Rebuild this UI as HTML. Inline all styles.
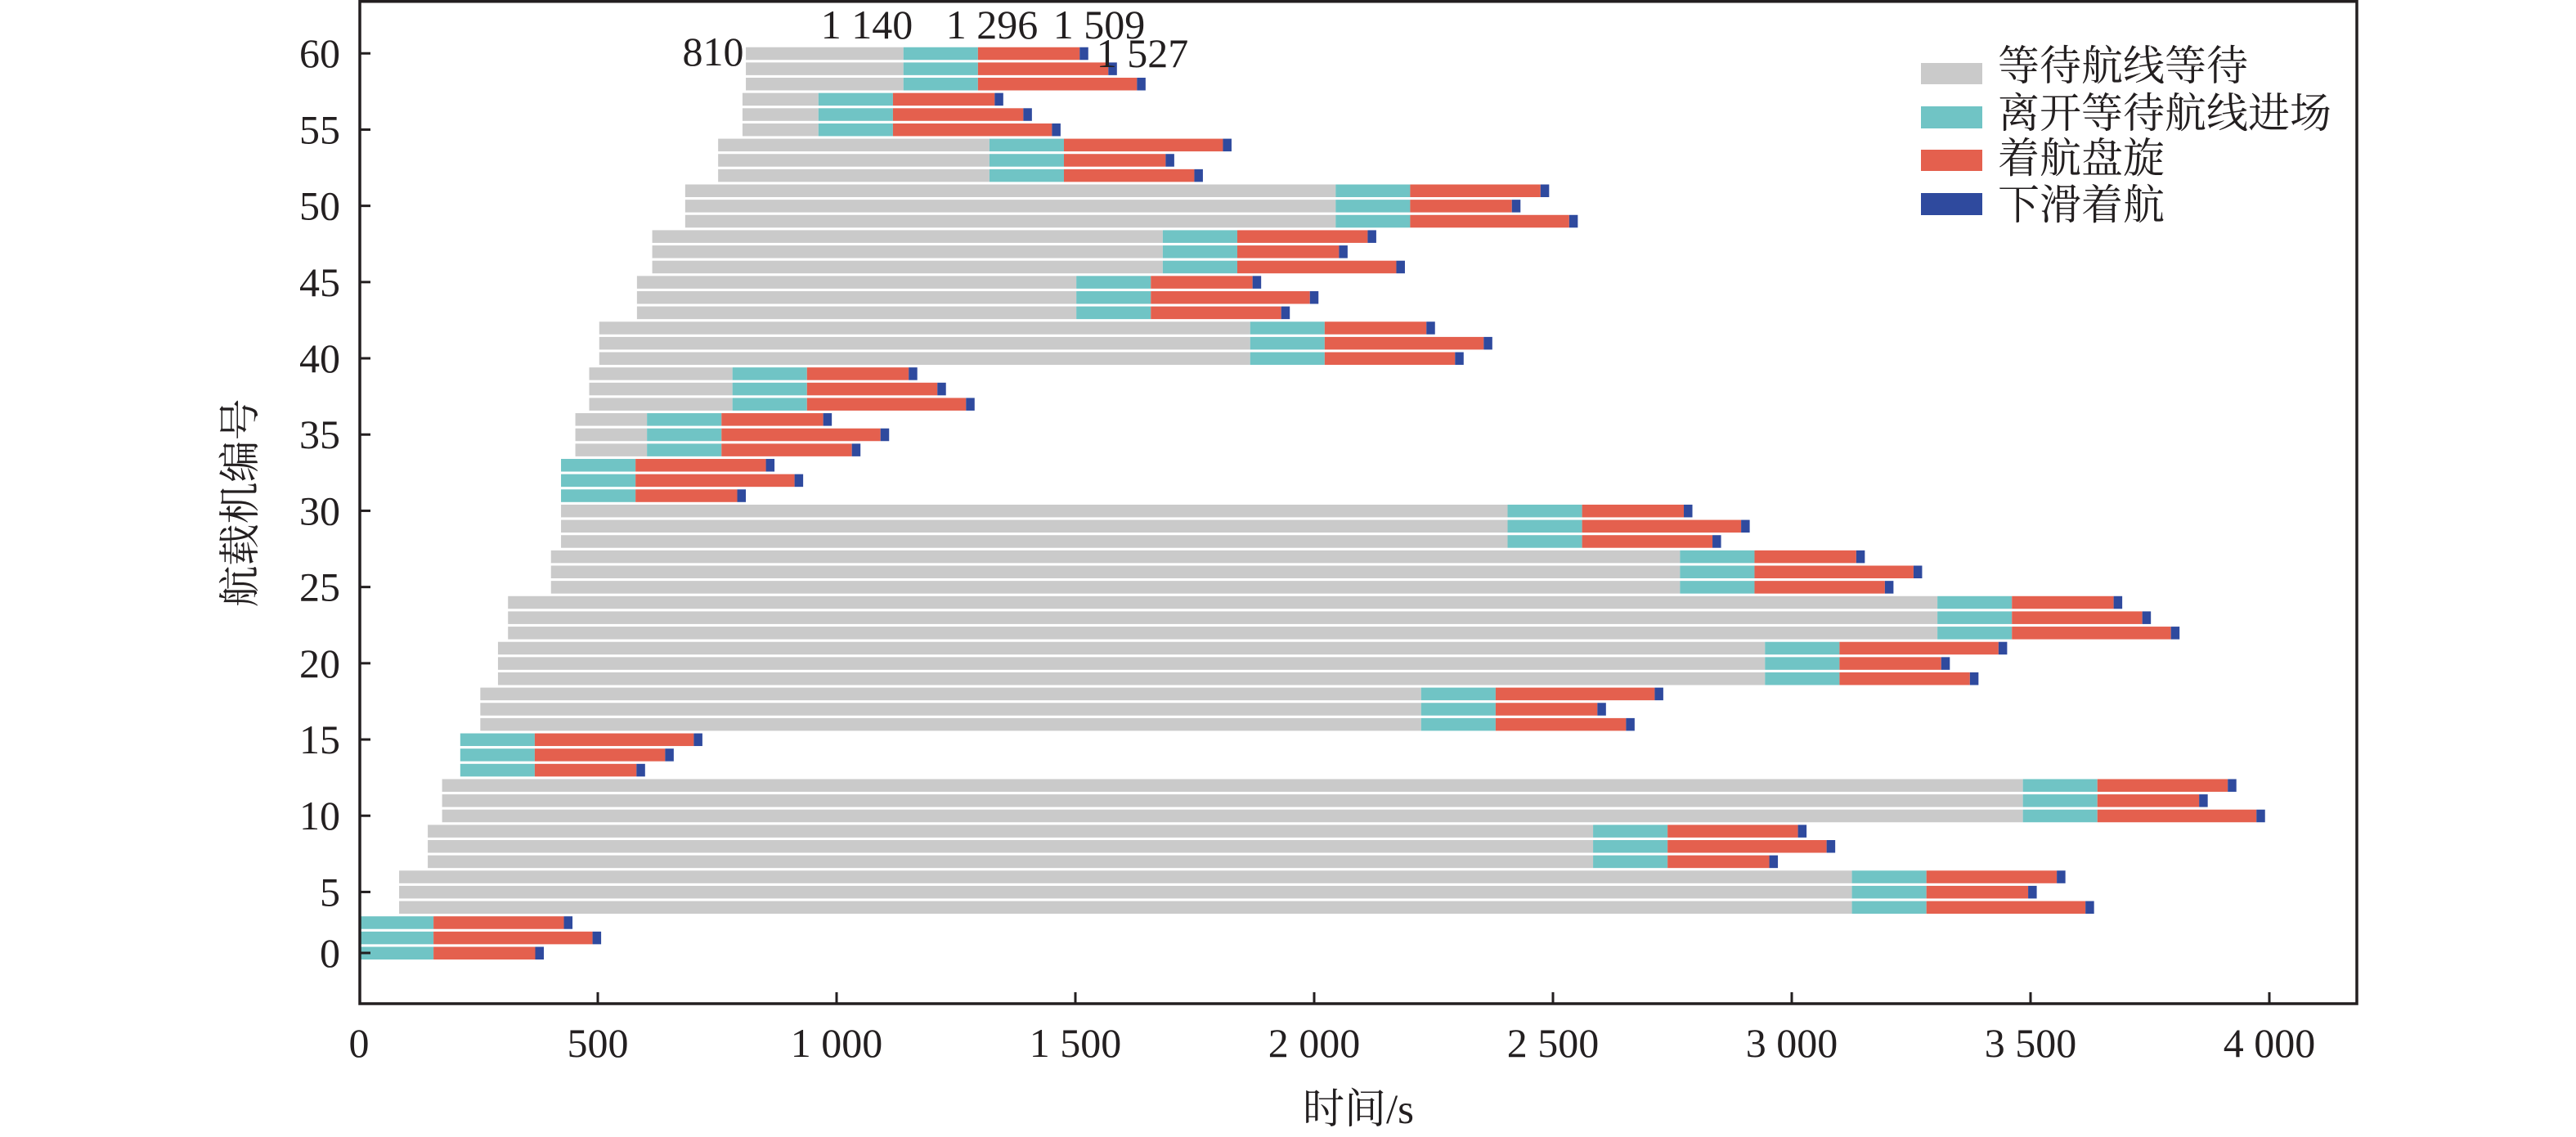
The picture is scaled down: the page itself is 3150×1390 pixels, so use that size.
<!DOCTYPE html>
<html>
<head>
<meta charset="utf-8">
<style>
  html, body { margin: 0; padding: 0; background: #ffffff; }
  svg { display: block; }
  .g { fill: #cacaca; }
  .t { fill: #70c4c5; }
  .r { fill: #e4604e; }
  .b { fill: #2f4a9e; }
  .num { font-family: "Liberation Serif", "Noto Serif CJK SC", serif; font-size: 50px; fill: #231f20; }
  .cjk { font-family: "Liberation Serif", "Noto Serif CJK SC", serif; font-size: 51px; fill: #231f20; }
</style>
</head>
<body>
<svg width="3150" height="1390" viewBox="0 0 3150 1390" xmlns="http://www.w3.org/2000/svg">
  <rect x="0" y="0" width="3150" height="1390" fill="#ffffff"/>

  <!-- bars: x in seconds, scaled -->
  <g transform="translate(439 0) scale(0.584 1)">
    <!-- i0-2 -->
    <rect class="t" x="0" y="1157.5" width="156" height="15.5"/><rect class="r" x="156" y="1157.5" width="213" height="15.5"/><rect class="b" x="369" y="1157.5" width="18" height="15.5"/>
    <rect class="t" x="0" y="1138.86" width="156" height="15.5"/><rect class="r" x="156" y="1138.86" width="333" height="15.5"/><rect class="b" x="489" y="1138.86" width="18" height="15.5"/>
    <rect class="t" x="0" y="1120.22" width="156" height="15.5"/><rect class="r" x="156" y="1120.22" width="273" height="15.5"/><rect class="b" x="429" y="1120.22" width="18" height="15.5"/>
    <!-- i3-5 -->
    <rect class="g" x="84" y="1101.58" width="3042" height="15.5"/><rect class="t" x="3126" y="1101.58" width="156" height="15.5"/><rect class="r" x="3282" y="1101.58" width="333" height="15.5"/><rect class="b" x="3615" y="1101.58" width="18" height="15.5"/>
    <rect class="g" x="84" y="1082.94" width="3042" height="15.5"/><rect class="t" x="3126" y="1082.94" width="156" height="15.5"/><rect class="r" x="3282" y="1082.94" width="213" height="15.5"/><rect class="b" x="3495" y="1082.94" width="18" height="15.5"/>
    <rect class="g" x="84" y="1064.3" width="3042" height="15.5"/><rect class="t" x="3126" y="1064.3" width="156" height="15.5"/><rect class="r" x="3282" y="1064.3" width="273" height="15.5"/><rect class="b" x="3555" y="1064.3" width="18" height="15.5"/>
    <!-- i6-8 -->
    <rect class="g" x="144" y="1045.66" width="2440" height="15.5"/><rect class="t" x="2584" y="1045.66" width="156" height="15.5"/><rect class="r" x="2740" y="1045.66" width="213" height="15.5"/><rect class="b" x="2953" y="1045.66" width="18" height="15.5"/>
    <rect class="g" x="144" y="1027.02" width="2440" height="15.5"/><rect class="t" x="2584" y="1027.02" width="156" height="15.5"/><rect class="r" x="2740" y="1027.02" width="333" height="15.5"/><rect class="b" x="3073" y="1027.02" width="18" height="15.5"/>
    <rect class="g" x="144" y="1008.38" width="2440" height="15.5"/><rect class="t" x="2584" y="1008.38" width="156" height="15.5"/><rect class="r" x="2740" y="1008.38" width="273" height="15.5"/><rect class="b" x="3013" y="1008.38" width="18" height="15.5"/>
    <!-- i9-11 -->
    <rect class="g" x="174" y="989.74" width="3310" height="15.5"/><rect class="t" x="3484" y="989.74" width="156" height="15.5"/><rect class="r" x="3640" y="989.74" width="333" height="15.5"/><rect class="b" x="3973" y="989.74" width="18" height="15.5"/>
    <rect class="g" x="174" y="971.1" width="3310" height="15.5"/><rect class="t" x="3484" y="971.1" width="156" height="15.5"/><rect class="r" x="3640" y="971.1" width="213" height="15.5"/><rect class="b" x="3853" y="971.1" width="18" height="15.5"/>
    <rect class="g" x="174" y="952.46" width="3310" height="15.5"/><rect class="t" x="3484" y="952.46" width="156" height="15.5"/><rect class="r" x="3640" y="952.46" width="273" height="15.5"/><rect class="b" x="3913" y="952.46" width="18" height="15.5"/>
    <!-- i12-14 -->
    <rect class="t" x="212" y="933.82" width="156" height="15.5"/><rect class="r" x="368" y="933.82" width="213" height="15.5"/><rect class="b" x="581" y="933.82" width="18" height="15.5"/>
    <rect class="t" x="212" y="915.18" width="156" height="15.5"/><rect class="r" x="368" y="915.18" width="273" height="15.5"/><rect class="b" x="641" y="915.18" width="18" height="15.5"/>
    <rect class="t" x="212" y="896.54" width="156" height="15.5"/><rect class="r" x="368" y="896.54" width="333" height="15.5"/><rect class="b" x="701" y="896.54" width="18" height="15.5"/>
    <!-- i15-17 -->
    <rect class="g" x="254" y="877.9" width="1970" height="15.5"/><rect class="t" x="2224" y="877.9" width="156" height="15.5"/><rect class="r" x="2380" y="877.9" width="273" height="15.5"/><rect class="b" x="2653" y="877.9" width="18" height="15.5"/>
    <rect class="g" x="254" y="859.26" width="1970" height="15.5"/><rect class="t" x="2224" y="859.26" width="156" height="15.5"/><rect class="r" x="2380" y="859.26" width="213" height="15.5"/><rect class="b" x="2593" y="859.26" width="18" height="15.5"/>
    <rect class="g" x="254" y="840.62" width="1970" height="15.5"/><rect class="t" x="2224" y="840.62" width="156" height="15.5"/><rect class="r" x="2380" y="840.62" width="333" height="15.5"/><rect class="b" x="2713" y="840.62" width="18" height="15.5"/>
    <!-- i18-20 -->
    <rect class="g" x="291" y="821.98" width="2653" height="15.5"/><rect class="t" x="2944" y="821.98" width="156" height="15.5"/><rect class="r" x="3100" y="821.98" width="273" height="15.5"/><rect class="b" x="3373" y="821.98" width="18" height="15.5"/>
    <rect class="g" x="291" y="803.34" width="2653" height="15.5"/><rect class="t" x="2944" y="803.34" width="156" height="15.5"/><rect class="r" x="3100" y="803.34" width="213" height="15.5"/><rect class="b" x="3313" y="803.34" width="18" height="15.5"/>
    <rect class="g" x="291" y="784.7" width="2653" height="15.5"/><rect class="t" x="2944" y="784.7" width="156" height="15.5"/><rect class="r" x="3100" y="784.7" width="333" height="15.5"/><rect class="b" x="3433" y="784.7" width="18" height="15.5"/>
    <!-- i21-23 -->
    <rect class="g" x="312" y="766.06" width="2993" height="15.5"/><rect class="t" x="3305" y="766.06" width="156" height="15.5"/><rect class="r" x="3461" y="766.06" width="333" height="15.5"/><rect class="b" x="3794" y="766.06" width="18" height="15.5"/>
    <rect class="g" x="312" y="747.42" width="2993" height="15.5"/><rect class="t" x="3305" y="747.42" width="156" height="15.5"/><rect class="r" x="3461" y="747.42" width="273" height="15.5"/><rect class="b" x="3734" y="747.42" width="18" height="15.5"/>
    <rect class="g" x="312" y="728.78" width="2993" height="15.5"/><rect class="t" x="3305" y="728.78" width="156" height="15.5"/><rect class="r" x="3461" y="728.78" width="213" height="15.5"/><rect class="b" x="3674" y="728.78" width="18" height="15.5"/>
    <!-- i24-26 -->
    <rect class="g" x="402" y="710.14" width="2364" height="15.5"/><rect class="t" x="2766" y="710.14" width="156" height="15.5"/><rect class="r" x="2922" y="710.14" width="273" height="15.5"/><rect class="b" x="3195" y="710.14" width="18" height="15.5"/>
    <rect class="g" x="402" y="691.5" width="2364" height="15.5"/><rect class="t" x="2766" y="691.5" width="156" height="15.5"/><rect class="r" x="2922" y="691.5" width="333" height="15.5"/><rect class="b" x="3255" y="691.5" width="18" height="15.5"/>
    <rect class="g" x="402" y="672.86" width="2364" height="15.5"/><rect class="t" x="2766" y="672.86" width="156" height="15.5"/><rect class="r" x="2922" y="672.86" width="213" height="15.5"/><rect class="b" x="3135" y="672.86" width="18" height="15.5"/>
    <!-- i27-29 -->
    <rect class="g" x="423" y="654.22" width="1982" height="15.5"/><rect class="t" x="2405" y="654.22" width="156" height="15.5"/><rect class="r" x="2561" y="654.22" width="273" height="15.5"/><rect class="b" x="2834" y="654.22" width="18" height="15.5"/>
    <rect class="g" x="423" y="635.58" width="1982" height="15.5"/><rect class="t" x="2405" y="635.58" width="156" height="15.5"/><rect class="r" x="2561" y="635.58" width="333" height="15.5"/><rect class="b" x="2894" y="635.58" width="18" height="15.5"/>
    <rect class="g" x="423" y="616.94" width="1982" height="15.5"/><rect class="t" x="2405" y="616.94" width="156" height="15.5"/><rect class="r" x="2561" y="616.94" width="213" height="15.5"/><rect class="b" x="2774" y="616.94" width="18" height="15.5"/>
    <!-- i30-32 -->
    <rect class="t" x="423" y="598.3" width="156" height="15.5"/><rect class="r" x="579" y="598.3" width="213" height="15.5"/><rect class="b" x="792" y="598.3" width="18" height="15.5"/>
    <rect class="t" x="423" y="579.66" width="156" height="15.5"/><rect class="r" x="579" y="579.66" width="333" height="15.5"/><rect class="b" x="912" y="579.66" width="18" height="15.5"/>
    <rect class="t" x="423" y="561.02" width="156" height="15.5"/><rect class="r" x="579" y="561.02" width="273" height="15.5"/><rect class="b" x="852" y="561.02" width="18" height="15.5"/>
    <!-- i33-35 -->
    <rect class="g" x="453" y="542.38" width="150" height="15.5"/><rect class="t" x="603" y="542.38" width="156" height="15.5"/><rect class="r" x="759" y="542.38" width="273" height="15.5"/><rect class="b" x="1032" y="542.38" width="18" height="15.5"/>
    <rect class="g" x="453" y="523.74" width="150" height="15.5"/><rect class="t" x="603" y="523.74" width="156" height="15.5"/><rect class="r" x="759" y="523.74" width="333" height="15.5"/><rect class="b" x="1092" y="523.74" width="18" height="15.5"/>
    <rect class="g" x="453" y="505.1" width="150" height="15.5"/><rect class="t" x="603" y="505.1" width="156" height="15.5"/><rect class="r" x="759" y="505.1" width="213" height="15.5"/><rect class="b" x="972" y="505.1" width="18" height="15.5"/>
    <!-- i36-38 -->
    <rect class="g" x="482" y="486.46" width="300" height="15.5"/><rect class="t" x="782" y="486.46" width="156" height="15.5"/><rect class="r" x="938" y="486.46" width="333" height="15.5"/><rect class="b" x="1271" y="486.46" width="18" height="15.5"/>
    <rect class="g" x="482" y="467.82" width="300" height="15.5"/><rect class="t" x="782" y="467.82" width="156" height="15.5"/><rect class="r" x="938" y="467.82" width="273" height="15.5"/><rect class="b" x="1211" y="467.82" width="18" height="15.5"/>
    <rect class="g" x="482" y="449.18" width="300" height="15.5"/><rect class="t" x="782" y="449.18" width="156" height="15.5"/><rect class="r" x="938" y="449.18" width="213" height="15.5"/><rect class="b" x="1151" y="449.18" width="18" height="15.5"/>
    <!-- i39-41 -->
    <rect class="g" x="503" y="430.54" width="1363" height="15.5"/><rect class="t" x="1866" y="430.54" width="156" height="15.5"/><rect class="r" x="2022" y="430.54" width="273" height="15.5"/><rect class="b" x="2295" y="430.54" width="18" height="15.5"/>
    <rect class="g" x="503" y="411.9" width="1363" height="15.5"/><rect class="t" x="1866" y="411.9" width="156" height="15.5"/><rect class="r" x="2022" y="411.9" width="333" height="15.5"/><rect class="b" x="2355" y="411.9" width="18" height="15.5"/>
    <rect class="g" x="503" y="393.26" width="1363" height="15.5"/><rect class="t" x="1866" y="393.26" width="156" height="15.5"/><rect class="r" x="2022" y="393.26" width="213" height="15.5"/><rect class="b" x="2235" y="393.26" width="18" height="15.5"/>
    <!-- i42-44 -->
    <rect class="g" x="582" y="374.62" width="920" height="15.5"/><rect class="t" x="1502" y="374.62" width="156" height="15.5"/><rect class="r" x="1658" y="374.62" width="273" height="15.5"/><rect class="b" x="1931" y="374.62" width="18" height="15.5"/>
    <rect class="g" x="582" y="355.98" width="920" height="15.5"/><rect class="t" x="1502" y="355.98" width="156" height="15.5"/><rect class="r" x="1658" y="355.98" width="333" height="15.5"/><rect class="b" x="1991" y="355.98" width="18" height="15.5"/>
    <rect class="g" x="582" y="337.34" width="920" height="15.5"/><rect class="t" x="1502" y="337.34" width="156" height="15.5"/><rect class="r" x="1658" y="337.34" width="213" height="15.5"/><rect class="b" x="1871" y="337.34" width="18" height="15.5"/>
    <!-- i45-47 -->
    <rect class="g" x="614" y="318.7" width="1069" height="15.5"/><rect class="t" x="1683" y="318.7" width="156" height="15.5"/><rect class="r" x="1839" y="318.7" width="333" height="15.5"/><rect class="b" x="2172" y="318.7" width="18" height="15.5"/>
    <rect class="g" x="614" y="300.06" width="1069" height="15.5"/><rect class="t" x="1683" y="300.06" width="156" height="15.5"/><rect class="r" x="1839" y="300.06" width="213" height="15.5"/><rect class="b" x="2052" y="300.06" width="18" height="15.5"/>
    <rect class="g" x="614" y="281.42" width="1069" height="15.5"/><rect class="t" x="1683" y="281.42" width="156" height="15.5"/><rect class="r" x="1839" y="281.42" width="273" height="15.5"/><rect class="b" x="2112" y="281.42" width="18" height="15.5"/>
    <!-- i48-50 -->
    <rect class="g" x="683" y="262.78" width="1362" height="15.5"/><rect class="t" x="2045" y="262.78" width="156" height="15.5"/><rect class="r" x="2201" y="262.78" width="333" height="15.5"/><rect class="b" x="2534" y="262.78" width="18" height="15.5"/>
    <rect class="g" x="683" y="244.14" width="1362" height="15.5"/><rect class="t" x="2045" y="244.14" width="156" height="15.5"/><rect class="r" x="2201" y="244.14" width="213" height="15.5"/><rect class="b" x="2414" y="244.14" width="18" height="15.5"/>
    <rect class="g" x="683" y="225.5" width="1362" height="15.5"/><rect class="t" x="2045" y="225.5" width="156" height="15.5"/><rect class="r" x="2201" y="225.5" width="273" height="15.5"/><rect class="b" x="2474" y="225.5" width="18" height="15.5"/>
    <!-- i51-53 -->
    <rect class="g" x="752" y="206.86" width="568" height="15.5"/><rect class="t" x="1320" y="206.86" width="156" height="15.5"/><rect class="r" x="1476" y="206.86" width="273" height="15.5"/><rect class="b" x="1749" y="206.86" width="18" height="15.5"/>
    <rect class="g" x="752" y="188.22" width="568" height="15.5"/><rect class="t" x="1320" y="188.22" width="156" height="15.5"/><rect class="r" x="1476" y="188.22" width="213" height="15.5"/><rect class="b" x="1689" y="188.22" width="18" height="15.5"/>
    <rect class="g" x="752" y="169.58" width="568" height="15.5"/><rect class="t" x="1320" y="169.58" width="156" height="15.5"/><rect class="r" x="1476" y="169.58" width="333" height="15.5"/><rect class="b" x="1809" y="169.58" width="18" height="15.5"/>
    <!-- i54-56 -->
    <rect class="g" x="803" y="150.94" width="159" height="15.5"/><rect class="t" x="962" y="150.94" width="156" height="15.5"/><rect class="r" x="1118" y="150.94" width="333" height="15.5"/><rect class="b" x="1451" y="150.94" width="18" height="15.5"/>
    <rect class="g" x="803" y="132.3" width="159" height="15.5"/><rect class="t" x="962" y="132.3" width="156" height="15.5"/><rect class="r" x="1118" y="132.3" width="273" height="15.5"/><rect class="b" x="1391" y="132.3" width="18" height="15.5"/>
    <rect class="g" x="803" y="113.66" width="159" height="15.5"/><rect class="t" x="962" y="113.66" width="156" height="15.5"/><rect class="r" x="1118" y="113.66" width="213" height="15.5"/><rect class="b" x="1331" y="113.66" width="18" height="15.5"/>
    <!-- i57-59 -->
    <rect class="g" x="810" y="95.02" width="330" height="15.5"/><rect class="t" x="1140" y="95.02" width="156" height="15.5"/><rect class="r" x="1296" y="95.02" width="333" height="15.5"/><rect class="b" x="1629" y="95.02" width="18" height="15.5"/>
    <rect class="g" x="810" y="76.38" width="330" height="15.5"/><rect class="t" x="1140" y="76.38" width="156" height="15.5"/><rect class="r" x="1296" y="76.38" width="273" height="15.5"/><rect class="b" x="1569" y="76.38" width="18" height="15.5"/>
    <rect class="g" x="810" y="57.74" width="330" height="15.5"/><rect class="t" x="1140" y="57.74" width="156" height="15.5"/><rect class="r" x="1296" y="57.74" width="213" height="15.5"/><rect class="b" x="1509" y="57.74" width="18" height="15.5"/>
  </g>

  <!-- frame -->
  <rect x="440" y="1.75" width="2442" height="1225.25" fill="none" stroke="#231f20" stroke-width="3.5"/>

  <!-- x ticks -->
  <g stroke="#231f20" stroke-width="3">
    <line x1="731" y1="1213" x2="731" y2="1227"/>
    <line x1="1023" y1="1213" x2="1023" y2="1227"/>
    <line x1="1315" y1="1213" x2="1315" y2="1227"/>
    <line x1="1607" y1="1213" x2="1607" y2="1227"/>
    <line x1="1899" y1="1213" x2="1899" y2="1227"/>
    <line x1="2191" y1="1213" x2="2191" y2="1227"/>
    <line x1="2483" y1="1213" x2="2483" y2="1227"/>
    <line x1="2775" y1="1213" x2="2775" y2="1227"/>
  </g>
  <!-- y ticks -->
  <g stroke="#231f20" stroke-width="3">
    <line x1="440" y1="1165" x2="453" y2="1165"/>
    <line x1="440" y1="1090.44" x2="453" y2="1090.44"/>
    <line x1="440" y1="997.24" x2="453" y2="997.24"/>
    <line x1="440" y1="904.04" x2="453" y2="904.04"/>
    <line x1="440" y1="810.84" x2="453" y2="810.84"/>
    <line x1="440" y1="717.64" x2="453" y2="717.64"/>
    <line x1="440" y1="624.44" x2="453" y2="624.44"/>
    <line x1="440" y1="531.24" x2="453" y2="531.24"/>
    <line x1="440" y1="438.04" x2="453" y2="438.04"/>
    <line x1="440" y1="344.84" x2="453" y2="344.84"/>
    <line x1="440" y1="251.64" x2="453" y2="251.64"/>
    <line x1="440" y1="158.44" x2="453" y2="158.44"/>
    <line x1="440" y1="65.24" x2="453" y2="65.24"/>
  </g>

  <!-- x tick labels -->
  <g class="num" text-anchor="middle">
    <text x="439" y="1292">0</text>
    <text x="731" y="1292">500</text>
    <text x="1023" y="1292">1 000</text>
    <text x="1315" y="1292">1 500</text>
    <text x="1607" y="1292">2 000</text>
    <text x="1899" y="1292">2 500</text>
    <text x="2191" y="1292">3 000</text>
    <text x="2483" y="1292">3 500</text>
    <text x="2775" y="1292">4 000</text>
  </g>

  <!-- y tick labels -->
  <g class="num" text-anchor="end">
    <text x="416" y="1182">0</text>
    <text x="416" y="1107.44">5</text>
    <text x="416" y="1014.24">10</text>
    <text x="416" y="921.04">15</text>
    <text x="416" y="827.84">20</text>
    <text x="416" y="734.64">25</text>
    <text x="416" y="641.44">30</text>
    <text x="416" y="548.24">35</text>
    <text x="416" y="455.04">40</text>
    <text x="416" y="361.84">45</text>
    <text x="416" y="268.64">50</text>
    <text x="416" y="175.44">55</text>
    <text x="416" y="82.24">60</text>
  </g>

  <!-- annotations -->
  <g class="num" text-anchor="middle">
    <text x="872" y="80">810</text>
    <text x="1060" y="47">1 140</text>
    <text x="1213" y="47">1 296</text>
    <text x="1344" y="47">1 509</text>
    <text x="1397" y="82">1 527</text>
  </g>

  <!-- legend -->
  <rect class="g" x="2349" y="77" width="75" height="26"/>
  <rect class="t" x="2349" y="130" width="75" height="27"/>
  <rect class="r" x="2349" y="183" width="75" height="26"/>
  <rect class="b" x="2349" y="236" width="75" height="27"/>
  <g class="cjk">
    <text x="2443" y="98">等待航线等待</text>
    <text x="2443" y="156">离开等待航线进场</text>
    <text x="2443" y="211">着航盘旋</text>
    <text x="2443" y="268">下滑着航</text>
  </g>

  <!-- axis titles -->
  <text class="cjk" x="1661" y="1373" text-anchor="middle">时间/s</text>
  <text class="cjk" transform="translate(311 615) rotate(-90)" text-anchor="middle">航载机编号</text>
</svg>
</body>
</html>
